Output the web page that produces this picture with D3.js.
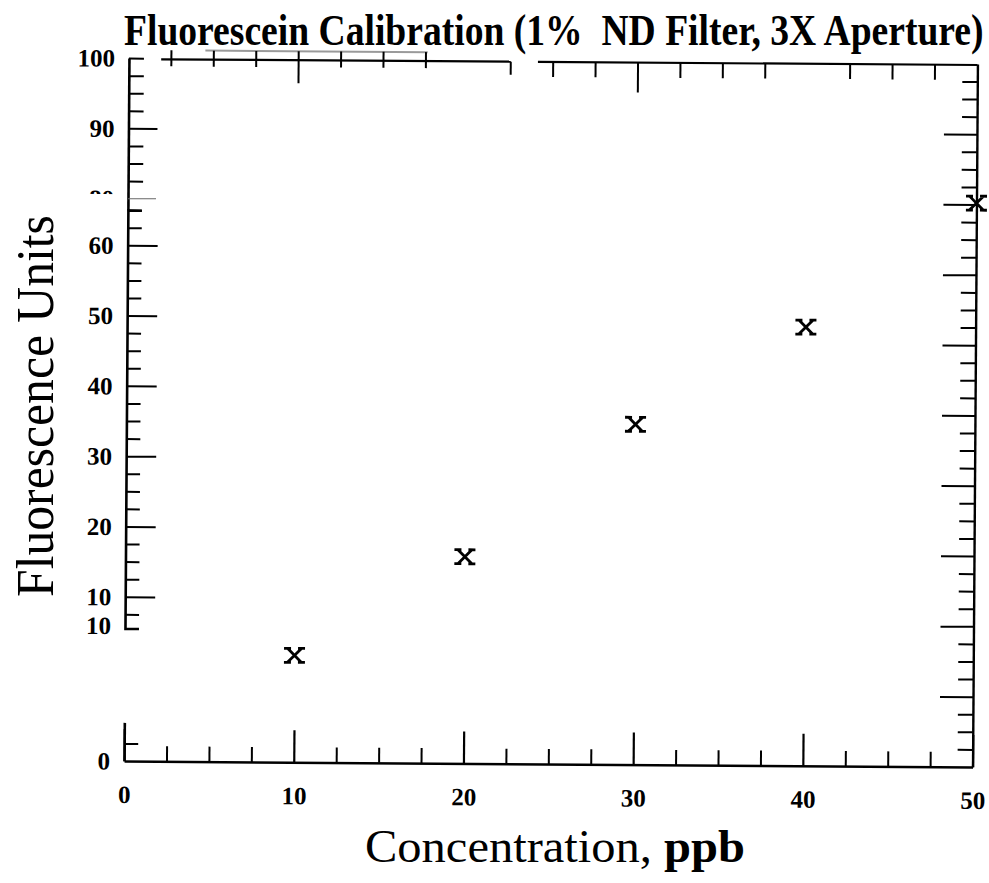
<!DOCTYPE html>
<html>
<head>
<meta charset="utf-8">
<script src="https://cdn.jsdelivr.net/npm/d3@7"></script>
<style>
  html, body { margin: 0; padding: 0; background: #fff; }
  svg { display: block; }
</style>
</head>
<body>
<script>
// ---- data -------------------------------------------------------------
const concentration = [10, 20, 30, 40, 50];            // ppb
const fluorescence  = [15.2, 29.4, 48.4, 62.4, 80.2];  // fluorescence units

// x axis
const xLabelValues = [0, 10, 20, 30, 40, 50];
const xLabelText   = ["0", "10", "20", "30", "40", "50"];
const xMinorTicks  = d3.range(2.5, 50, 2.5).filter(v => v % 10 !== 0);

// top frame edge (two pasted strips)
const topTicksLeft  = [2.5, 5, 7.5, 12.5, 15, 17.5];
const topMajorLeft  = [10];
const topTicksRight = [25, 27.5, 32.5, 35, 37.5, 42.5, 45, 47.5];
const topMajorRight = [30];

// left axis, upper strip
const yUpperLabelValues = [100, 90];
const yUpperLabelText   = ["100", "90"];
const yUpperMinor       = [82.5, 85, 87.5, 92.5, 95, 97.5];
// left axis, middle strip
const yMidLabelValues = [60, 50, 40, 30, 20, 10, 5.9];
const yMidLabelText   = ["60", "50", "40", "30", "20", "10", "10"];
const yMidMajor       = [10, 20, 30, 40, 50, 60];
const yMidMinor       = d3.range(7.5, 65.1, 2.5).filter(v => v % 10 !== 0);
// right axis
const yRightMajor = d3.range(10, 100, 10);
const yRightMinor = d3.range(2.5, 100, 2.5).filter(v => v % 10 !== 0);

// ---- layout -----------------------------------------------------------
const W = 989, H = 883;
const serif = "'Liberation Serif', 'Times New Roman', serif";

const x = d3.scaleLinear().domain([0, 50]).range([126.5, 975]);
const y = d3.scaleLinear().domain([0, 100]).range([764, 61]);
const midShift = 94;   // the middle strip of the left axis sits higher
const yTopEdge = 62;

const svg = d3.select("body").append("svg")
  .attr("width", W).attr("height", H)
  .attr("viewBox", `0 0 ${W} ${H}`);

svg.append("rect").attr("width", W).attr("height", H).attr("fill", "#fff");

// squeeze a text horizontally so that it spans the given width
function fitWidth(sel, x0, y0, width) {
  const w = sel.node().getBBox().width;
  sel.attr("transform", `translate(${x0},${y0}) scale(${width / w},1)`);
}

// title
const title = svg.append("text")
  .attr("x", 0).attr("y", 0)
  .attr("font-family", serif).attr("font-weight", "bold")
  .attr("font-size", 44)
  .style("white-space", "pre");
title.append("tspan").text("Fluorescein Calibration (1%  ND Filter, ");
title.append("tspan").text("3X");
title.append("tspan").text(" Aperture)");
fitWidth(title, 124, 45, 860);

// axis titles
const yt = svg.append("text")
  .attr("x", 0).attr("y", 0)
  .attr("text-anchor", "middle")
  .attr("font-family", serif).attr("font-size", 53)
  .text("Fluorescence Units");
{
  const w = yt.node().getBBox().width;
  yt.attr("transform", `translate(53,406) rotate(-90) scale(${382 / w},1)`);
}

const xt = svg.append("text")
  .attr("x", 0).attr("y", 0)
  .attr("text-anchor", "middle")
  .attr("font-family", serif).attr("font-size", 46)
  .style("white-space", "pre");
xt.append("tspan").text("Concentration, ");
xt.append("tspan").attr("font-weight", "bold").text("ppb");
fitWidth(xt, 555, 862, 380);

// ---- plot frame (slightly skewed sheet) -------------------------------
const g = svg.append("g").attr("transform", "rotate(0.4,550,412)");

function styleAxis(sel, w) {
  sel.selectAll("path.domain").attr("stroke", "#000").attr("stroke-width", w);
  sel.selectAll(".tick line").attr("stroke", "#000").attr("stroke-width", 2);
  sel.selectAll(".tick text").remove();
}

// bottom axis: minor ticks + frame line
const gb = g.append("g").attr("transform", `translate(0,${y(0)})`)
  .call(d3.axisBottom(x).tickValues(xMinorTicks).tickSize(-15).tickSizeOuter(0));
styleAxis(gb, 2.4);
// bottom axis: major ticks with labels
const gbm = g.append("g").attr("transform", `translate(0,${y(0)})`)
  .call(d3.axisBottom(x).tickValues(xLabelValues).tickSize(-32)
    .tickFormat((d, i) => xLabelText[i]));
gbm.select("path.domain").remove();
gbm.selectAll(".tick line").attr("stroke", "#000").attr("stroke-width", 2.2);
gbm.selectAll(".tick text")
  .attr("y", 42).attr("dy", 0)
  .attr("font-family", serif).attr("font-weight", "bold").attr("font-size", 25)
  .attr("fill", "#000");

// right axis, ticks pointing inward
const gr = g.append("g").attr("transform", `translate(${x(50)},0)`)
  .call(d3.axisLeft(y).tickValues(yRightMinor).tickSize(15).tickSizeOuter(0));
styleAxis(gr, 2.4);
const grm = g.append("g").attr("transform", `translate(${x(50)},0)`)
  .call(d3.axisLeft(y).tickValues(yRightMajor).tickSize(33).tickSizeOuter(0));
grm.select("path.domain").remove();
styleAxis(grm, 2.4);

// left axis: upper strip (80-100)
const yUpper = d3.scaleLinear().domain([78.4, 100]).range([y(78.4), y(100)]);
const gl1 = g.append("g").attr("transform", `translate(${x(0)},0)`)
  .call(d3.axisRight(yUpper).tickValues(yUpperMinor.concat([100])).tickSize(15).tickSizeOuter(0));
styleAxis(gl1, 2.6);
const gl1m = g.append("g").attr("transform", `translate(${x(0)},0)`)
  .call(d3.axisRight(yUpper).tickValues([90]).tickSize(29).tickSizeOuter(0));
gl1m.select("path.domain").remove();
styleAxis(gl1m, 2.6);
// faint line where the 80 mark was cut
g.append("line")
  .attr("x1", x(0)).attr("x2", x(0) + 28)
  .attr("y1", y(80)).attr("y2", y(80))
  .attr("stroke", "#666").attr("stroke-width", 1);

// left axis: middle strip
const yMid = d3.scaleLinear().domain([5.5, 65]).range([y(5.5) - midShift, y(65) - midShift]);
const gl2 = g.append("g").attr("transform", `translate(${x(0)},0)`)
  .call(d3.axisRight(yMid).tickValues(yMidMinor).tickSize(14).tickSizeOuter(14));
styleAxis(gl2, 2.6);
const gl2m = g.append("g").attr("transform", `translate(${x(0)},0)`)
  .call(d3.axisRight(yMid).tickValues(yMidMajor).tickSize(30).tickSizeOuter(0));
gl2m.select("path.domain").remove();
styleAxis(gl2m, 2.6);

// left axis: bottom strip
const yLow = d3.scaleLinear().domain([0, 5.5]).range([y(0), y(5.5)]);
const gl3 = g.append("g").attr("transform", `translate(${x(0)},0)`)
  .call(d3.axisRight(yLow).tickValues([2.5]).tickSize(14).tickSizeOuter(0));
styleAxis(gl3, 2.6);

// left axis labels
const labelX = x(0) - 14;
function yLabels(values, texts, scale) {
  g.append("g").selectAll("text").data(values).join("text")
    .attr("x", labelX).attr("y", d => scale(d))
    .attr("dy", "0.35em").attr("text-anchor", "end")
    .attr("font-family", serif).attr("font-weight", "bold").attr("font-size", 25)
    .text((d, i) => texts[i]);
}
yLabels(yUpperLabelValues, yUpperLabelText, y);
yLabels(yMidLabelValues, yMidLabelText, yMid);
yLabels([0], ["0"], y);

// the "80" label, cut off by the pasted strip below it
svg.append("defs").append("clipPath").attr("id", "cut80")
  .append("rect").attr("x", 0).attr("y", 0).attr("width", 200).attr("height", y(80) - 4.5);
g.append("text")
  .attr("clip-path", "url(#cut80)")
  .attr("x", labelX).attr("y", y(80)).attr("dy", "0.35em")
  .attr("text-anchor", "end")
  .attr("font-family", serif).attr("font-weight", "bold").attr("font-size", 25)
  .text("80");

// top frame edge, two strips with hanging ticks
const topLeftDomain = [1.9, 22.5], topRightDomain = [24.1, 50];
g.append("line")
  .attr("x1", x(4.5)).attr("x2", x(17.6))
  .attr("y1", yTopEdge - 9).attr("y2", yTopEdge - 9)
  .attr("stroke", "#9a9a9a").attr("stroke-width", 2);
[topLeftDomain, topRightDomain].forEach(dm => {
  g.append("line")
    .attr("x1", x(dm[0])).attr("x2", x(dm[1]))
    .attr("y1", yTopEdge).attr("y2", yTopEdge)
    .attr("stroke", "#000").attr("stroke-width", 2.2);
});
function topTicks(values, y1, y2) {
  g.append("g").selectAll("line").data(values).join("line")
    .attr("x1", d => x(d)).attr("x2", d => x(d))
    .attr("y1", y1).attr("y2", y2)
    .attr("stroke", "#000").attr("stroke-width", 2);
}
topTicks(topTicksLeft, yTopEdge - 9, yTopEdge + 7);
topTicks(topMajorLeft, yTopEdge - 9, yTopEdge + 23);
topTicks([topLeftDomain[1]], yTopEdge, yTopEdge + 13);
topTicks(topTicksRight, yTopEdge, yTopEdge + 15);
topTicks(topMajorRight, yTopEdge, yTopEdge + 30);

// data markers: typewriter "x"
const xMark = "M-7,-7L7,7M7,-7L-7,7M-10.5,-7H-3.5M3.5,-7H10.5M-10.5,7H-3.5M3.5,7H10.5";
g.append("g").selectAll("path").data(concentration).join("path")
  .attr("transform", (d, i) => `translate(${x(d)},${y(fluorescence[i])})`)
  .attr("d", xMark)
  .attr("fill", "none").attr("stroke", "#000").attr("stroke-width", 2.8);
</script>
</body>
</html>
